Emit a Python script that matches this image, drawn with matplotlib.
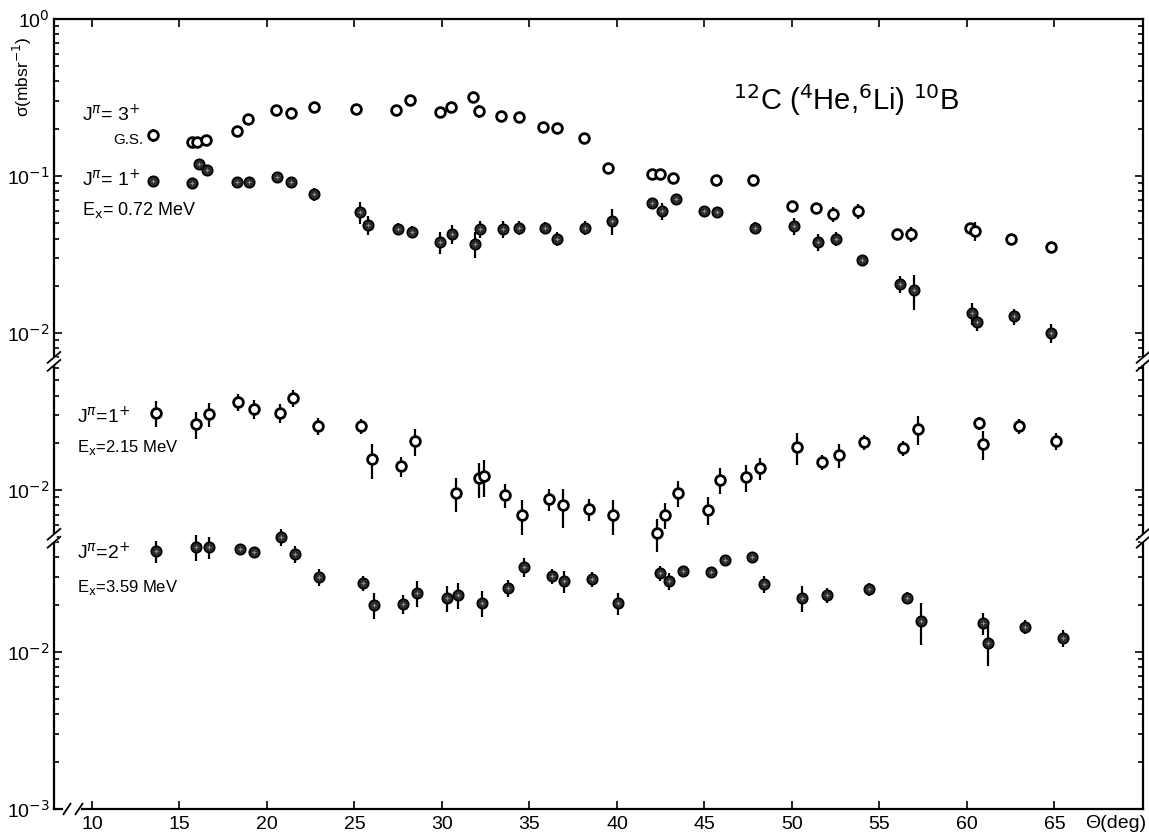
import numpy as np
import matplotlib
matplotlib.use('Agg')
import matplotlib.pyplot as plt
from matplotlib.lines import Line2D
from matplotlib.transforms import IdentityTransform

plt.rcParams['font.family'] = ['Liberation Sans Narrow', 'Liberation Sans', 'DejaVu Sans']
plt.rcParams['mathtext.fontset'] = 'custom'
plt.rcParams['mathtext.rm'] = 'Liberation Sans Narrow'
plt.rcParams['mathtext.it'] = 'Liberation Sans Narrow:italic'
plt.rcParams['mathtext.bf'] = 'Liberation Sans Narrow:bold'
plt.rcParams['mathtext.sf'] = 'Liberation Sans Narrow'

# 3+ ground state (open)
ang_gs = [13.5, 15.7, 16.0, 16.5, 18.3, 18.9, 20.5, 21.35, 22.7, 25.1, 27.4, 28.2, 29.9,
          30.5, 31.8, 32.1, 33.4, 34.4, 35.8, 36.6, 38.1, 39.5, 42.0, 42.45, 43.2, 45.66,
          47.8, 50.0, 51.4, 52.35, 53.8, 56.0, 56.8, 60.2, 60.45, 62.5, 64.8]
sig_gs = [0.182, 0.165, 0.165, 0.169, 0.194, 0.231, 0.263, 0.251, 0.275, 0.267, 0.263, 0.305,
          0.257, 0.275, 0.318, 0.259, 0.241, 0.238, 0.205, 0.202, 0.175, 0.112, 0.103, 0.103,
          0.097, 0.094, 0.095, 0.064, 0.0625, 0.057, 0.060, 0.043, 0.043, 0.047, 0.045, 0.040,
          0.0353]
err_gs = [0.09, 0.03, 0.03, 0.03, 0.03, 0.03, 0.03, 0.05, 0.03, 0.07, 0.03, 0.03, 0.03,
          0.03, 0.03, 0.09, 0.03, 0.03, 0.03, 0.03, 0.03, 0.03, 0.08, 0.03, 0.08, 0.03,
          0.03, 0.05, 0.03, 0.11, 0.11, 0.05, 0.11, 0.06, 0.14, 0.06, 0.08]

# 1+ , Ex = 0.72 MeV (filled)
ang_072 = [13.5, 15.7, 16.1, 16.6, 18.3, 19.0, 20.55, 21.35, 22.7, 25.3, 25.8, 27.5, 28.3,
           29.9, 30.6, 31.9, 32.2, 33.5, 34.4, 35.9, 36.6, 38.2, 39.7, 42.0, 42.6, 43.4,
           45.0, 45.7, 47.9, 50.1, 51.5, 52.5, 54.0, 56.2, 57.0, 60.3, 60.6, 62.7, 64.8]
sig_072 = [0.093, 0.090, 0.119, 0.109, 0.091, 0.092, 0.0986, 0.092, 0.0767, 0.059, 0.049,
           0.046, 0.044, 0.038, 0.043, 0.037, 0.046, 0.046, 0.047, 0.047, 0.040, 0.047, 0.052,
           0.067, 0.060, 0.071, 0.060, 0.059, 0.047, 0.048, 0.038, 0.040, 0.0292, 0.0205,
           0.0188, 0.0134, 0.0117, 0.0128, 0.0100]
err_072 = [0.07, 0.05, 0.08, 0.07, 0.07, 0.07, 0.07, 0.07, 0.09, 0.16, 0.14, 0.09, 0.09,
           0.16, 0.14, 0.19, 0.12, 0.12, 0.10, 0.09, 0.10, 0.10, 0.19, 0.08, 0.12, 0.08,
           0.08, 0.08, 0.08, 0.12, 0.12, 0.10, 0.08, 0.12, 0.25, 0.16, 0.12, 0.12, 0.14]

# 1+ , Ex = 2.15 MeV (open)
ang_215 = [13.66, 15.94, 16.7, 18.35, 19.27, 20.74, 21.5, 22.9, 25.4, 26.0, 27.65, 28.45,
           30.8, 32.1, 32.4, 33.6, 34.6, 36.1, 36.9, 38.4, 39.8, 42.3, 42.75, 43.5, 45.2,
           45.9, 47.4, 48.2, 50.3, 51.7, 52.7, 54.1, 56.35, 57.2, 60.7, 60.9, 63.0, 65.1]
sig_215 = [0.031, 0.0263, 0.0305, 0.0363, 0.0328, 0.031, 0.0386, 0.0256, 0.0256, 0.0158,
           0.0142, 0.0205, 0.0096, 0.0119, 0.0123, 0.0093, 0.0069, 0.0088, 0.0080, 0.0076,
           0.0069, 0.0053, 0.0070, 0.0096, 0.0075, 0.0116, 0.0121, 0.0138, 0.0188, 0.0151,
           0.0167, 0.0202, 0.0186, 0.0245, 0.0267, 0.0196, 0.0256, 0.0205]
err_215 = [0.19, 0.19, 0.175, 0.125, 0.14, 0.14, 0.125, 0.125, 0.108, 0.25, 0.14, 0.19,
           0.246, 0.246, 0.265, 0.175, 0.246, 0.158, 0.28, 0.158, 0.25, 0.24, 0.19, 0.19,
           0.20, 0.19, 0.19, 0.158, 0.23, 0.11, 0.175, 0.11, 0.11, 0.21, 0.09, 0.21, 0.11,
           0.125]

# 2+ , Ex = 3.59 MeV (filled)
ang_359 = [13.66, 15.94, 16.7, 18.46, 19.27, 20.8, 21.6, 22.97, 25.5, 26.1, 27.8, 28.6,
           30.3, 30.9, 32.3, 33.8, 34.7, 36.3, 37.0, 38.6, 40.06, 42.46, 43.0, 43.8, 45.4,
           46.2, 47.7, 48.4, 50.6, 52.0, 54.4, 56.6, 57.4, 60.9, 61.2, 63.3, 65.5]
sig_359 = [0.044, 0.0467, 0.0467, 0.0453, 0.0433, 0.054, 0.042, 0.030, 0.0275, 0.020,
           0.0202, 0.0238, 0.0221, 0.0231, 0.0205, 0.0257, 0.0348, 0.0305, 0.0283, 0.0292,
           0.0205, 0.0318, 0.0283, 0.0328, 0.0323, 0.0386, 0.0403, 0.0271, 0.0221, 0.0231,
           0.0251, 0.0221, 0.0158, 0.0153, 0.0114, 0.0145, 0.0123]
err_359 = [0.158, 0.19, 0.158, 0.076, 0.076, 0.125, 0.125, 0.125, 0.108, 0.19, 0.14, 0.19,
           0.19, 0.19, 0.19, 0.125, 0.14, 0.108, 0.158, 0.108, 0.158, 0.108, 0.125, 0.076,
           0.076, 0.076, 0.076, 0.125, 0.19, 0.108, 0.09, 0.09, 0.30, 0.158, 0.283, 0.108,
           0.125]

x_ticks = [10, 15, 20, 25, 30, 35, 40, 45, 50, 55, 60, 65]

# the three blocks share one axis: (decade shift, lowest log10 shown, highest log10 shown)
blocks = [(0.0, -2.18, 0.0), (-1.0, -2.306, -1.18), (-2.03, -3.0, -1.276)]

fig = plt.figure(figsize=(11.49, 8.38), dpi=100)
ax = fig.add_axes([54 / 1149, 1 - 809 / 838, 1089 / 1149, 790 / 838])
ax.set_xlim(7.83, 70.06)
ax.set_ylim(-5.03, 0.0)


def draw(ang, sig, err, shift, filled):
    ang = np.array(ang)
    sig = np.array(sig)
    err = np.array(err)
    y = np.log10(sig) + shift
    up = np.log10(1 + err)
    lo = -np.log10(1 - err)
    ax.errorbar(ang, y, yerr=[lo, up], fmt='none', ecolor='k', elinewidth=1.6,
                capsize=0, zorder=2)
    if filled:
        ax.plot(ang, y, 'o', ms=7.5, mfc='#2b2b2b', mec='k', mew=1.2, zorder=3)
        ax.plot(ang, y, '+', ms=3.5, color='#8c8c8c', mew=0.8, zorder=4)
    else:
        ax.plot(ang, y, 'o', ms=7, mfc='white', mec='k', mew=2.0, zorder=3)


draw(ang_gs, sig_gs, err_gs, blocks[0][0], False)
draw(ang_072, sig_072, err_072, blocks[0][0], True)
draw(ang_215, sig_215, err_215, blocks[1][0], False)
draw(ang_359, sig_359, err_359, blocks[2][0], True)

# log ticks for each block
major, minor, labels = [], [], []
for shift, lo, hi in blocks:
    for k in range(int(np.floor(lo)), int(np.ceil(hi)) + 1):
        for m in range(1, 10):
            l = k + np.log10(m)
            if lo - 1e-6 <= l <= hi + 1e-6:
                if m == 1:
                    major.append(l + shift)
                    labels.append(r'10$^{%d}$' % k)
                else:
                    minor.append(l + shift)
ax.set_yticks(major)
ax.set_yticklabels(labels)
ax.set_yticks(minor, minor=True)
ax.set_xticks(x_ticks)
ax.set_xticklabels([str(t) for t in x_ticks])

ax.tick_params(which='both', direction='in', top=True, right=True, width=1.2,
               labelsize=14, colors='k')
ax.tick_params(which='major', length=6, pad=5)
ax.tick_params(which='minor', length=3.5)
ax.tick_params(axis='y', pad=3)
for s in ax.spines.values():
    s.set_linewidth(1.6)


def seg(p0, p1, color='k', lw=1.3):
    fig.add_artist(Line2D([p0[0], p1[0]], [p0[1], p1[1]], transform=IdentityTransform(),
                          color=color, lw=lw, solid_capstyle='butt'))


# breaks on both vertical axes
x_left = ax.transAxes.transform((0, 0))[0]
x_right = ax.transAxes.transform((1, 0))[0]
breaks = [blocks[0][1] + blocks[0][0], blocks[1][1] + blocks[1][0]]
for yb in breaks:
    yp = ax.transData.transform((10, yb))[1]
    for xs in (x_left, x_right):
        seg((xs, yp - 4), (xs, yp + 4), color='white', lw=4)
        for dy in (-4, 4):
            seg((xs - 7, yp + dy - 6), (xs + 7, yp + dy + 6))

# break on the angle axis near the origin
y_bot = ax.transAxes.transform((0, 0))[1]
seg((63, y_bot), (81, y_bot), color='white', lw=4)
for xc in (67, 79):
    seg((xc - 4, y_bot - 6), (xc + 4, y_bot + 6))


def ftext(x, y, s, size, **kw):
    fig.text(x / 1149, 1 - y / 838, s, fontsize=size, va='center', **kw)


ftext(82, 115, r'J$^{\pi}$= 3$^{+}$', 14)
ftext(113, 140, 'G.S.', 11)
ftext(82, 180, r'J$^{\pi}$= 1$^{+}$', 14)
ftext(82, 210, r'E$_{\rm x}$= 0.72 MeV', 13)
ftext(77, 417, r'J$^{\pi}$=1$^{+}$', 14)
ftext(77, 447, r'E$_{\rm x}$=2.15 MeV', 12)
ftext(77, 553, r'J$^{\pi}$=2$^{+}$', 14)
ftext(77, 587, r'E$_{\rm x}$=3.59 MeV', 12)
ftext(733, 100, r'$^{12}$C ($^{4}$He,$^{6}$Li) $^{10}$B', 21)
ftext(22, 77, r'σ(mbsr$^{-1}$)', 12.5, rotation=90, ha='center')
ftext(1146, 823, 'Θ(deg)', 14, ha='right')

fig.savefig('out.png', dpi=100)
